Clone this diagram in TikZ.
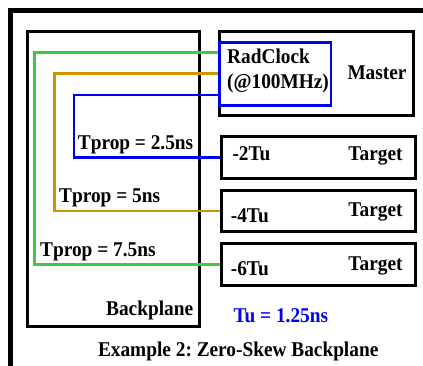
\documentclass[tikz,border=0pt]{standalone}
\usepackage{fontspec}
\setmainfont{Liberation Serif}[FakeStretch=0.92]
\usetikzlibrary{positioning}
\frenchspacing
\definecolor{wiregreen}{RGB}{64,200,64}
\definecolor{wireorange}{RGB}{204,150,0}
\definecolor{wireblue}{RGB}{0,0,245}
\tikzstyle{board} = [rectangle, draw=black, line width=3pt, inner sep=0pt]
\tikzstyle{clockbox} = [rectangle, draw=wireblue, line width=2.6pt, inner sep=0pt, minimum width=111.5pt, minimum height=63pt]
\tikzstyle{lbl} = [inner sep=0pt, font=\fontsize{21}{25}\selectfont\bfseries]
\tikzstyle{wire} = [line width=2.6pt]

\begin{document}
\begin{tikzpicture}[x=1pt,y=-1pt]
 \useasboundingbox (0,0) rectangle (423,366);
 \clip (0,0) rectangle (423,366);
 \draw[line width=5pt] (10.8,380) -- (10.8,10.8) -- (440,10.8);

 \node (backplane) [board, minimum width=171.7pt, minimum height=294.3pt] at (113.8,178.9) {};
 \node (master) [board, minimum width=193.7pt, minimum height=83.7pt] at (316.8,73.8) {};
 \node (radclock) [clockbox] at (275.2,73.8) {};
 \node (target1) [board, minimum width=194pt, minimum height=42pt] at (318.3,157.3) {};
 \node (target2) [board, minimum width=194pt, minimum height=41pt] at (318.3,211) {};
 \node (target3) [board, minimum width=194pt, minimum height=41.7pt] at (318.3,264.2) {};

 \draw[wire, wiregreen] ([yshift=21pt]radclock.west) -| ([xshift=-185.3pt]target3.west) -- (target3.west);
 \draw[wire, wireorange] (radclock.west) -| ([xshift=-165.6pt]target2.west) -- (target2.west);
 \draw[wire, wireblue] ([yshift=-21.2pt]radclock.west) -| ([xshift=-146pt]target1.west) -- (target1.west);

 \node (clocktext) [lbl, align=left, anchor=north west] at (227,49.1) {RadClock\\(@100MHz)};
 \node (mastertext) [lbl, anchor=base east] at (406.7,80) {Master};
 \node (slot1) [lbl, anchor=base west] at (232.3,160.5) {-2Tu};
 \node (slot2) [lbl, anchor=base west] at (230.7,222.7) {-4Tu};
 \node (slot3) [lbl, anchor=base west] at (230.7,276) {-6Tu};
 \node (target1text) [lbl, anchor=base east] at (402.7,161) {Target};
 \node (target2text) [lbl, anchor=base east] at (402.7,217) {Target};
 \node (target3text) [lbl, anchor=base east] at (402.7,270.7) {Target};
 \node (prop1) [lbl, anchor=base west] at (77.7,150) {Tprop = 2.5ns};
 \node (prop2) [lbl, anchor=base west] at (59,202.7) {Tprop = 5ns};
 \node (prop3) [lbl, anchor=base west] at (40,256) {Tprop = 7.5ns};
 \node (backplanetext) [lbl, anchor=base east] at (193.3,315) {Backplane};
 \node (unit) [lbl, text=wireblue, anchor=base west] at (233.3,322.3) {Tu = 1.25ns};
 \node (caption) [lbl, anchor=base] at (238.2,356.7) {Example 2: Zero-Skew Backplane};
\end{tikzpicture}
\end{document}
